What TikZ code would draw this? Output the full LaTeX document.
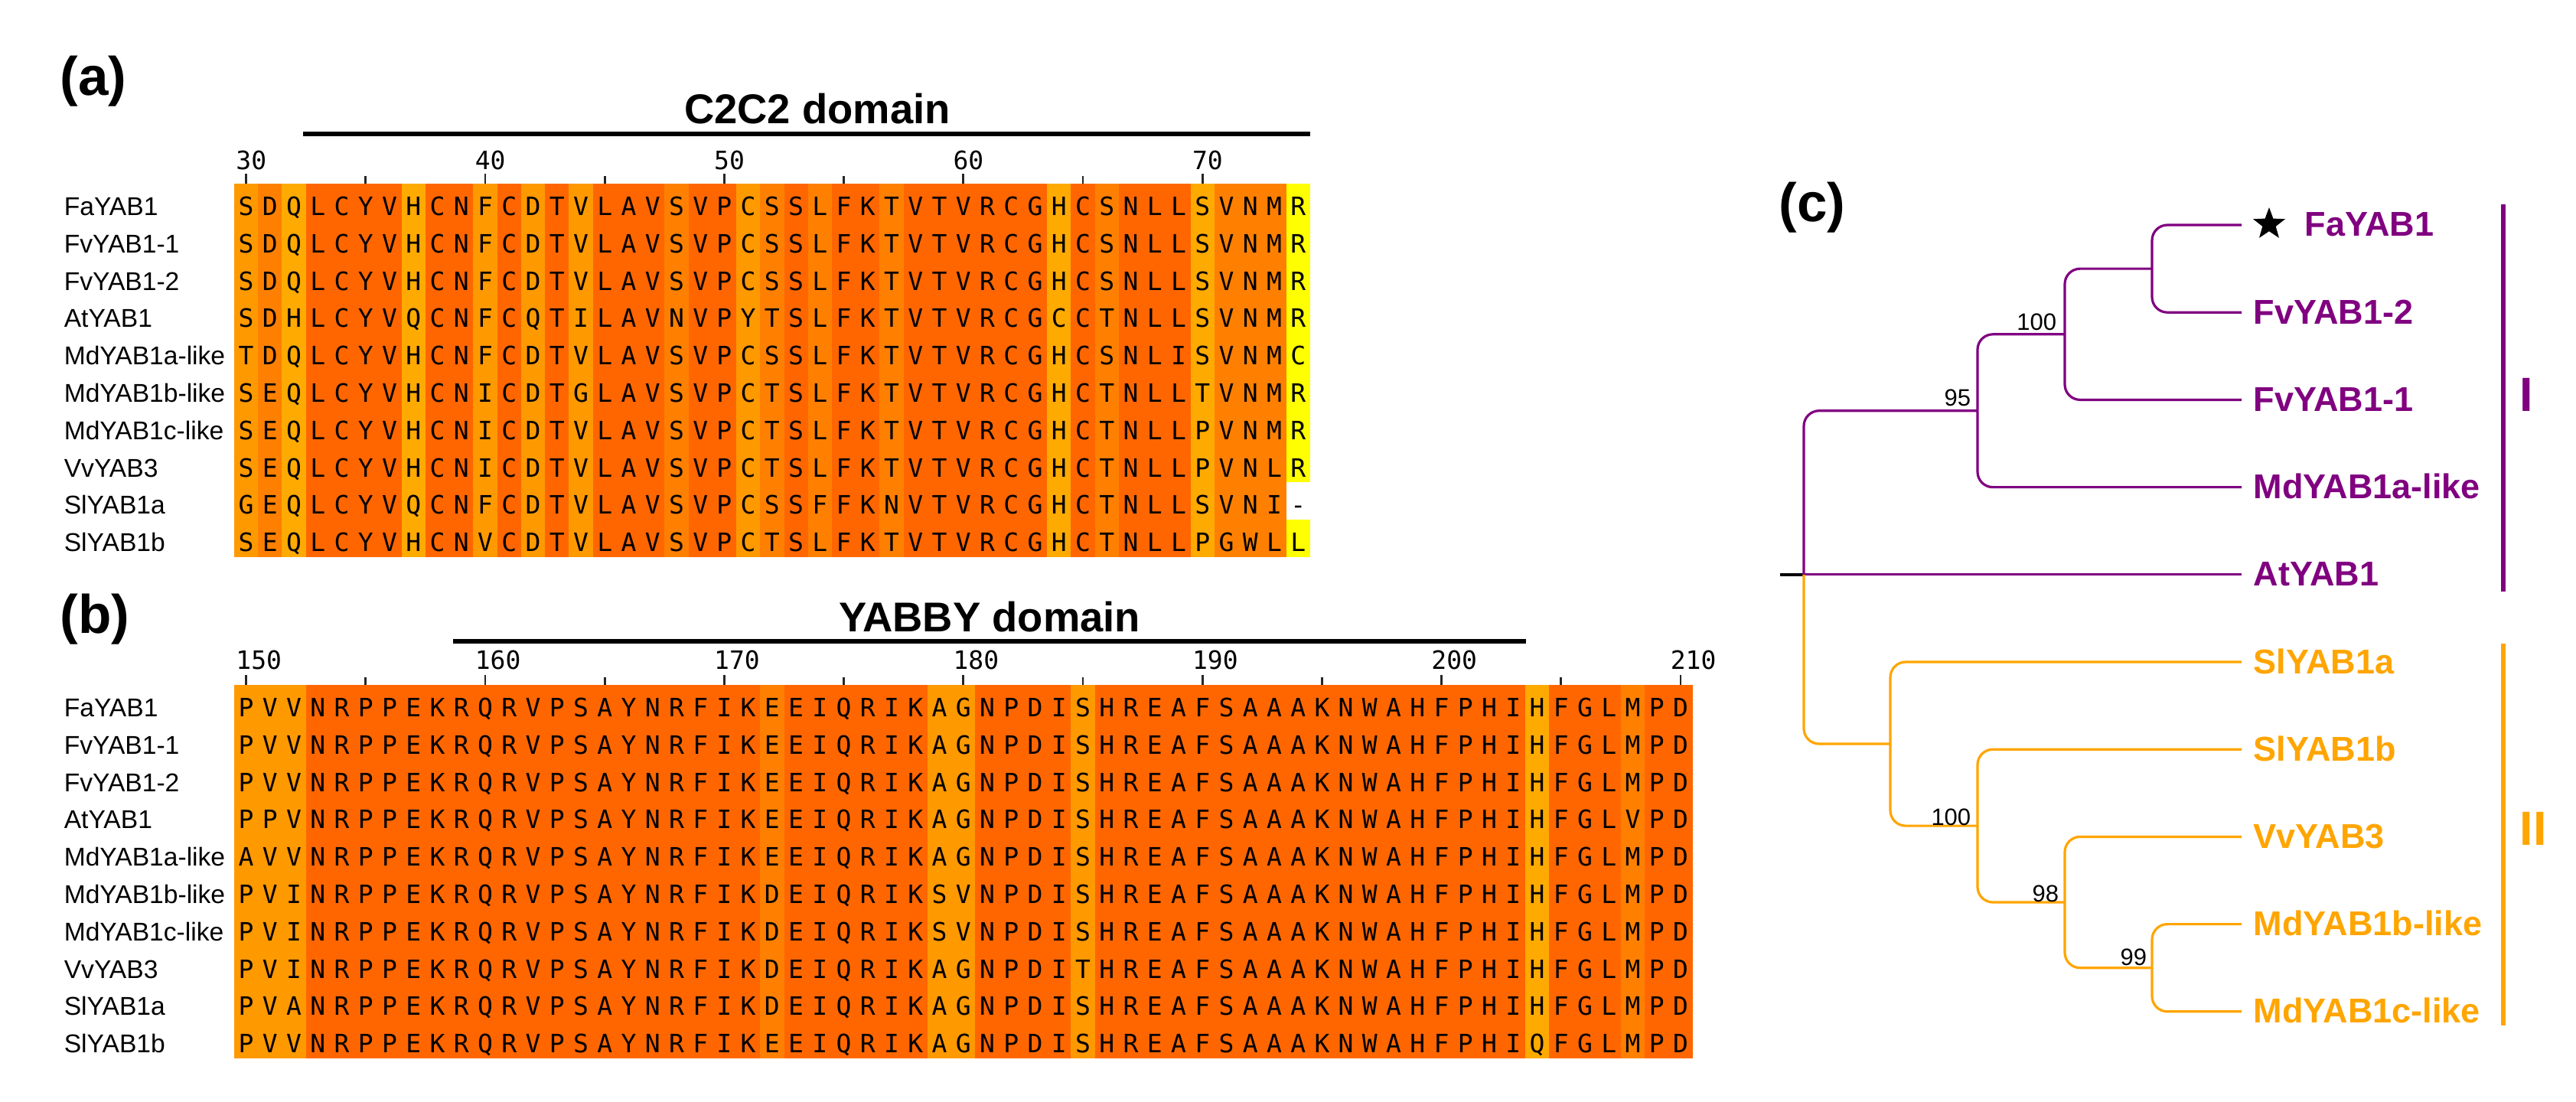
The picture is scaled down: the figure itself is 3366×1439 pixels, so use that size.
\documentclass[tikz,border=0pt]{standalone}
\usepackage{fontspec}
\setmainfont{Liberation Sans}
\newfontfamily\mono{DejaVu Sans Mono}
\usetikzlibrary{calc,shapes.geometric}
\definecolor{cD}{HTML}{FF6600}
\definecolor{cM}{HTML}{FF8000}
\definecolor{cL}{HTML}{FF9900}
\definecolor{cA}{HTML}{FFAA00}
\definecolor{cY}{HTML}{FFFF00}
\definecolor{purp}{HTML}{800080}
\definecolor{orng}{HTML}{FFA500}
\newcount\ci
\newcommand\putres[4]{\global\ci=0 \def\rpfx{#1}\def\rx{#2}\def\ry{#3}\prloop#4\relax}
\def\prloop#1{\ifx#1\relax\else
  \node[res] (\rpfx-\the\ci) at (\rx+\the\ci*31.24+15.62,\ry) {#1};%
  \global\advance\ci by 1 \expandafter\prloop\fi}
\newcommand\putcols[4]{\global\ci=0 \def\cx{#1}\def\cyt{#2}\def\cyb{#3}\pcloop#4\relax}
\def\pcloop#1{\ifx#1\relax\else
  \fill[c#1] (\cx+\the\ci*31.24,\cyt) rectangle (\cx+\the\ci*31.24+31.9,\cyb);%
  \global\advance\ci by 1 \expandafter\pcloop\fi}
\tikzset{
  lab/.style={anchor=base west, inner sep=0, font=\fontsize{8.4}{10}\selectfont},
  res/.style={anchor=base, inner sep=0, font=\mono\fontsize{8.25}{10}\selectfont},
  num/.style={anchor=base west, inner sep=0, font=\mono\fontsize{8.25}{10}\selectfont},
  dom/.style={anchor=base, inner sep=0, font=\bfseries\fontsize{13.6}{16}\selectfont},
  panel/.style={anchor=base west, inner sep=0, font=\bfseries\fontsize{17.75}{20}\selectfont},
  leaf/.style={anchor=base west, inner sep=0, font=\bfseries\fontsize{11.25}{13}\selectfont},
  boot/.style={anchor=base east, inner sep=0, font=\fontsize{7.75}{9}\selectfont},
  branch/.style={line width=0.8pt, rounded corners=5pt},
  tk/.style={line width=0.7pt, black!85},
  dombar/.style={line width=1.7pt, black},
  cladebar/.style={line width=1.5pt},
  clade/.style={anchor=base west, inner sep=0, font=\bfseries\fontsize{15.7}{18}\selectfont}
}
\begin{document}
\begin{tikzpicture}[x=0.25pt,y=-0.25pt]
\fill[white] (0,0) rectangle (3366,1439);
\useasboundingbox (0,0) rectangle (3366,1439);
% ---------------- panel (a)
\node[panel] (pa) at (78,124) {(a)};
\draw[dombar] (396,175) coordinate (c2s) -- (1712,175) coordinate (c2e);
\node[dom] (c2t) at (1068,161) {C2C2 domain};
\foreach \c in {30,40,...,70} {
  \draw[tk] (306+\c*31.24-30*31.24+15.62,227) -- (306+\c*31.24-30*31.24+15.62,240);
  \node[num] (na\c) at (306+\c*31.24-30*31.24+15.62-14,221) {\c};}
\foreach \c in {35,45,...,65} {
  \draw[tk] (306+\c*31.24-30*31.24+15.62,230) -- (306+\c*31.24-30*31.24+15.62,240);}
\putcols{306}{240}{728}{LMADDDDADDLDLDLDDDMDDLMDMDDMDDDDDDADMDDDAMMMY}
\fill[white] (306+44*31.24,240+8*48.8) rectangle (306+45*31.24+1,240+9*48.8);
\node[lab] (la0) at (83,240+0.5*48.8+17) {FaYAB1};
\node[lab] (la1) at (83,240+1.5*48.8+17) {FvYAB1-1};
\node[lab] (la2) at (83,240+2.5*48.8+17) {FvYAB1-2};
\node[lab] (la3) at (83,240+3.5*48.8+17) {AtYAB1};
\node[lab] (la4) at (83,240+4.5*48.8+17) {MdYAB1a-like};
\node[lab] (la5) at (83,240+5.5*48.8+17) {MdYAB1b-like};
\node[lab] (la6) at (83,240+6.5*48.8+17) {MdYAB1c-like};
\node[lab] (la7) at (83,240+7.5*48.8+17) {VvYAB3};
\node[lab] (la8) at (83,240+8.5*48.8+17) {SlYAB1a};
\node[lab] (la9) at (83,240+9.5*48.8+17) {SlYAB1b};
\putres{a0}{306}{240+0.5*48.8+17}{SDQLCYVHCNFCDTVLAVSVPCSSLFKTVTVRCGHCSNLLSVNMR}
\putres{a1}{306}{240+1.5*48.8+17}{SDQLCYVHCNFCDTVLAVSVPCSSLFKTVTVRCGHCSNLLSVNMR}
\putres{a2}{306}{240+2.5*48.8+17}{SDQLCYVHCNFCDTVLAVSVPCSSLFKTVTVRCGHCSNLLSVNMR}
\putres{a3}{306}{240+3.5*48.8+17}{SDHLCYVQCNFCQTILAVNVPYTSLFKTVTVRCGCCTNLLSVNMR}
\putres{a4}{306}{240+4.5*48.8+17}{TDQLCYVHCNFCDTVLAVSVPCSSLFKTVTVRCGHCSNLISVNMC}
\putres{a5}{306}{240+5.5*48.8+17}{SEQLCYVHCNICDTGLAVSVPCTSLFKTVTVRCGHCTNLLTVNMR}
\putres{a6}{306}{240+6.5*48.8+17}{SEQLCYVHCNICDTVLAVSVPCTSLFKTVTVRCGHCTNLLPVNMR}
\putres{a7}{306}{240+7.5*48.8+17}{SEQLCYVHCNICDTVLAVSVPCTSLFKTVTVRCGHCTNLLPVNLR}
\putres{a8}{306}{240+8.5*48.8+17}{GEQLCYVQCNFCDTVLAVSVPCSSFFKNVTVRCGHCTNLLSVNI-}
\putres{a9}{306}{240+9.5*48.8+17}{SEQLCYVHCNVCDTVLAVSVPCTSLFKTVTVRCGHCTNLLPGWLL}
% ---------------- panel (b)
\node[panel] (pb) at (78,827) {(b)};
\draw[dombar] (592,838) coordinate (ybs) -- (1994,838) coordinate (ybe);
\node[dom] (ybt) at (1293,825) {YABBY domain};
\foreach \c in {150,160,...,210} {
  \draw[tk] (306+\c*31.24-150*31.24+15.62,882) -- (306+\c*31.24-150*31.24+15.62,895);
  \node[num] (nb\c) at (306+\c*31.24-150*31.24+15.62-14,874) {\c};}
\foreach \c in {155,165,...,205} {
  \draw[tk] (306+\c*31.24-150*31.24+15.62,885) -- (306+\c*31.24-150*31.24+15.62,895);}
\putcols{306}{895}{1383}{LLLDDDDDDDDDDDDDDDDDDDMDDDDDDLLDDDDLDDDDDDDDDDDDDDDDDDADDDMDD}
\node[lab] (lb0) at (83,895+0.5*48.8+17) {FaYAB1};
\node[lab] (lb1) at (83,895+1.5*48.8+17) {FvYAB1-1};
\node[lab] (lb2) at (83,895+2.5*48.8+17) {FvYAB1-2};
\node[lab] (lb3) at (83,895+3.5*48.8+17) {AtYAB1};
\node[lab] (lb4) at (83,895+4.5*48.8+17) {MdYAB1a-like};
\node[lab] (lb5) at (83,895+5.5*48.8+17) {MdYAB1b-like};
\node[lab] (lb6) at (83,895+6.5*48.8+17) {MdYAB1c-like};
\node[lab] (lb7) at (83,895+7.5*48.8+17) {VvYAB3};
\node[lab] (lb8) at (83,895+8.5*48.8+17) {SlYAB1a};
\node[lab] (lb9) at (83,895+9.5*48.8+17) {SlYAB1b};
\putres{b0}{306}{895+0.5*48.8+17}{PVVNRPPEKRQRVPSAYNRFIKEEIQRIKAGNPDISHREAFSAAAKNWAHFPHIHFGLMPD}
\putres{b1}{306}{895+1.5*48.8+17}{PVVNRPPEKRQRVPSAYNRFIKEEIQRIKAGNPDISHREAFSAAAKNWAHFPHIHFGLMPD}
\putres{b2}{306}{895+2.5*48.8+17}{PVVNRPPEKRQRVPSAYNRFIKEEIQRIKAGNPDISHREAFSAAAKNWAHFPHIHFGLMPD}
\putres{b3}{306}{895+3.5*48.8+17}{PPVNRPPEKRQRVPSAYNRFIKEEIQRIKAGNPDISHREAFSAAAKNWAHFPHIHFGLVPD}
\putres{b4}{306}{895+4.5*48.8+17}{AVVNRPPEKRQRVPSAYNRFIKEEIQRIKAGNPDISHREAFSAAAKNWAHFPHIHFGLMPD}
\putres{b5}{306}{895+5.5*48.8+17}{PVINRPPEKRQRVPSAYNRFIKDEIQRIKSVNPDISHREAFSAAAKNWAHFPHIHFGLMPD}
\putres{b6}{306}{895+6.5*48.8+17}{PVINRPPEKRQRVPSAYNRFIKDEIQRIKSVNPDISHREAFSAAAKNWAHFPHIHFGLMPD}
\putres{b7}{306}{895+7.5*48.8+17}{PVINRPPEKRQRVPSAYNRFIKDEIQRIKAGNPDITHREAFSAAAKNWAHFPHIHFGLMPD}
\putres{b8}{306}{895+8.5*48.8+17}{PVANRPPEKRQRVPSAYNRFIKDEIQRIKAGNPDISHREAFSAAAKNWAHFPHIHFGLMPD}
\putres{b9}{306}{895+9.5*48.8+17}{PVVNRPPEKRQRVPSAYNRFIKEEIQRIKAGNPDISHREAFSAAAKNWAHFPHIQFGLMPD}
% ---------------- panel (c)
\node[panel] (pc) at (2324,289) {(c)};
\coordinate (root) at (2357,750.8);
\coordinate (stem) at (2326,750.8);
\coordinate (n95) at (2584,536.7);
\coordinate (n100a) at (2698,436.8);
\coordinate (nFa) at (2812,351.1);
\coordinate (nII) at (2470,972);
\coordinate (n100b) at (2584,1079.1);
\coordinate (n98) at (2698,1179);
\coordinate (n99) at (2812,1264.7);
\coordinate (tFa) at (2929,294);
\coordinate (tFv2) at (2929,408.2);
\coordinate (tFv1) at (2929,522.4);
\coordinate (tMa) at (2929,636.6);
\coordinate (tAt) at (2929,750.8);
\coordinate (tSa) at (2929,865);
\coordinate (tSb) at (2929,979.2);
\coordinate (tVv) at (2929,1093.4);
\coordinate (tMb) at (2929,1207.6);
\coordinate (tMc) at (2929,1321.8);
\draw[line width=1pt] (stem) -- (root);
\draw[branch,purp] (root) |- (n95);
\draw[branch,purp] (root) -- (tAt);
\draw[branch,purp] (n95) |- (n100a);
\draw[branch,purp] (n95) |- (tMa);
\draw[branch,purp] (n100a) |- (nFa);
\draw[branch,purp] (n100a) |- (tFv1);
\draw[branch,purp] (nFa) |- (tFa);
\draw[branch,purp] (nFa) |- (tFv2);
\draw[branch,orng] (root) |- (nII);
\draw[branch,orng] (nII) |- (tSa);
\draw[branch,orng] (nII) |- (n100b);
\draw[branch,orng] (n100b) |- (tSb);
\draw[branch,orng] (n100b) |- (n98);
\draw[branch,orng] (n98) |- (tVv);
\draw[branch,orng] (n98) |- (n99);
\draw[branch,orng] (n99) |- (tMb);
\draw[branch,orng] (n99) |- (tMc);
\node[boot] (b95) at ($(n95)+(-8,-6)$) {95};
\node[boot] (b100a) at ($(n100a)+(-10,-5)$) {100};
\node[boot] (b100b) at ($(n100b)+(-8,-1)$) {100};
\node[boot] (b98) at ($(n98)+(-7,-1)$) {98};
\node[boot] (b99) at ($(n99)+(-6,-3)$) {99};
\node[star, star points=5, star point ratio=2.4, fill=black, inner sep=0, minimum size=11pt] (star) at (2965,293) {};
\node[leaf,text=purp] (lFa) at (3011,308) {FaYAB1};
\node[leaf,text=purp] (lFv2) at (2944,408.2+15) {FvYAB1-2};
\node[leaf,text=purp] (lFv1) at (2944,522.4+15) {FvYAB1-1};
\node[leaf,text=purp] (lMa) at (2944,636.6+15) {MdYAB1a-like};
\node[leaf,text=purp] (lAt) at (2944,750.8+15) {AtYAB1};
\node[leaf,text=orng] (lSa) at (2944,865+15) {SlYAB1a};
\node[leaf,text=orng] (lSb) at (2944,979.2+15) {SlYAB1b};
\node[leaf,text=orng] (lVv) at (2944,1093.4+15) {VvYAB3};
\node[leaf,text=orng] (lMb) at (2944,1207.6+15) {MdYAB1b-like};
\node[leaf,text=orng] (lMc) at (2944,1321.8+15) {MdYAB1c-like};
\coordinate (bIt) at (3271,267);
\coordinate (bIb) at (3271,773);
\coordinate (bIIt) at (3271,841);
\coordinate (bIIb) at (3271,1340);
\draw[cladebar,purp] (bIt) -- (bIb);
\draw[cladebar,orng] (bIIt) -- (bIIb);
\node[clade,text=purp] (cI) at (3292,537) {I};
\node[clade,text=orng] (cII) at (3292,1104) {II};
\end{tikzpicture}
\end{document}
